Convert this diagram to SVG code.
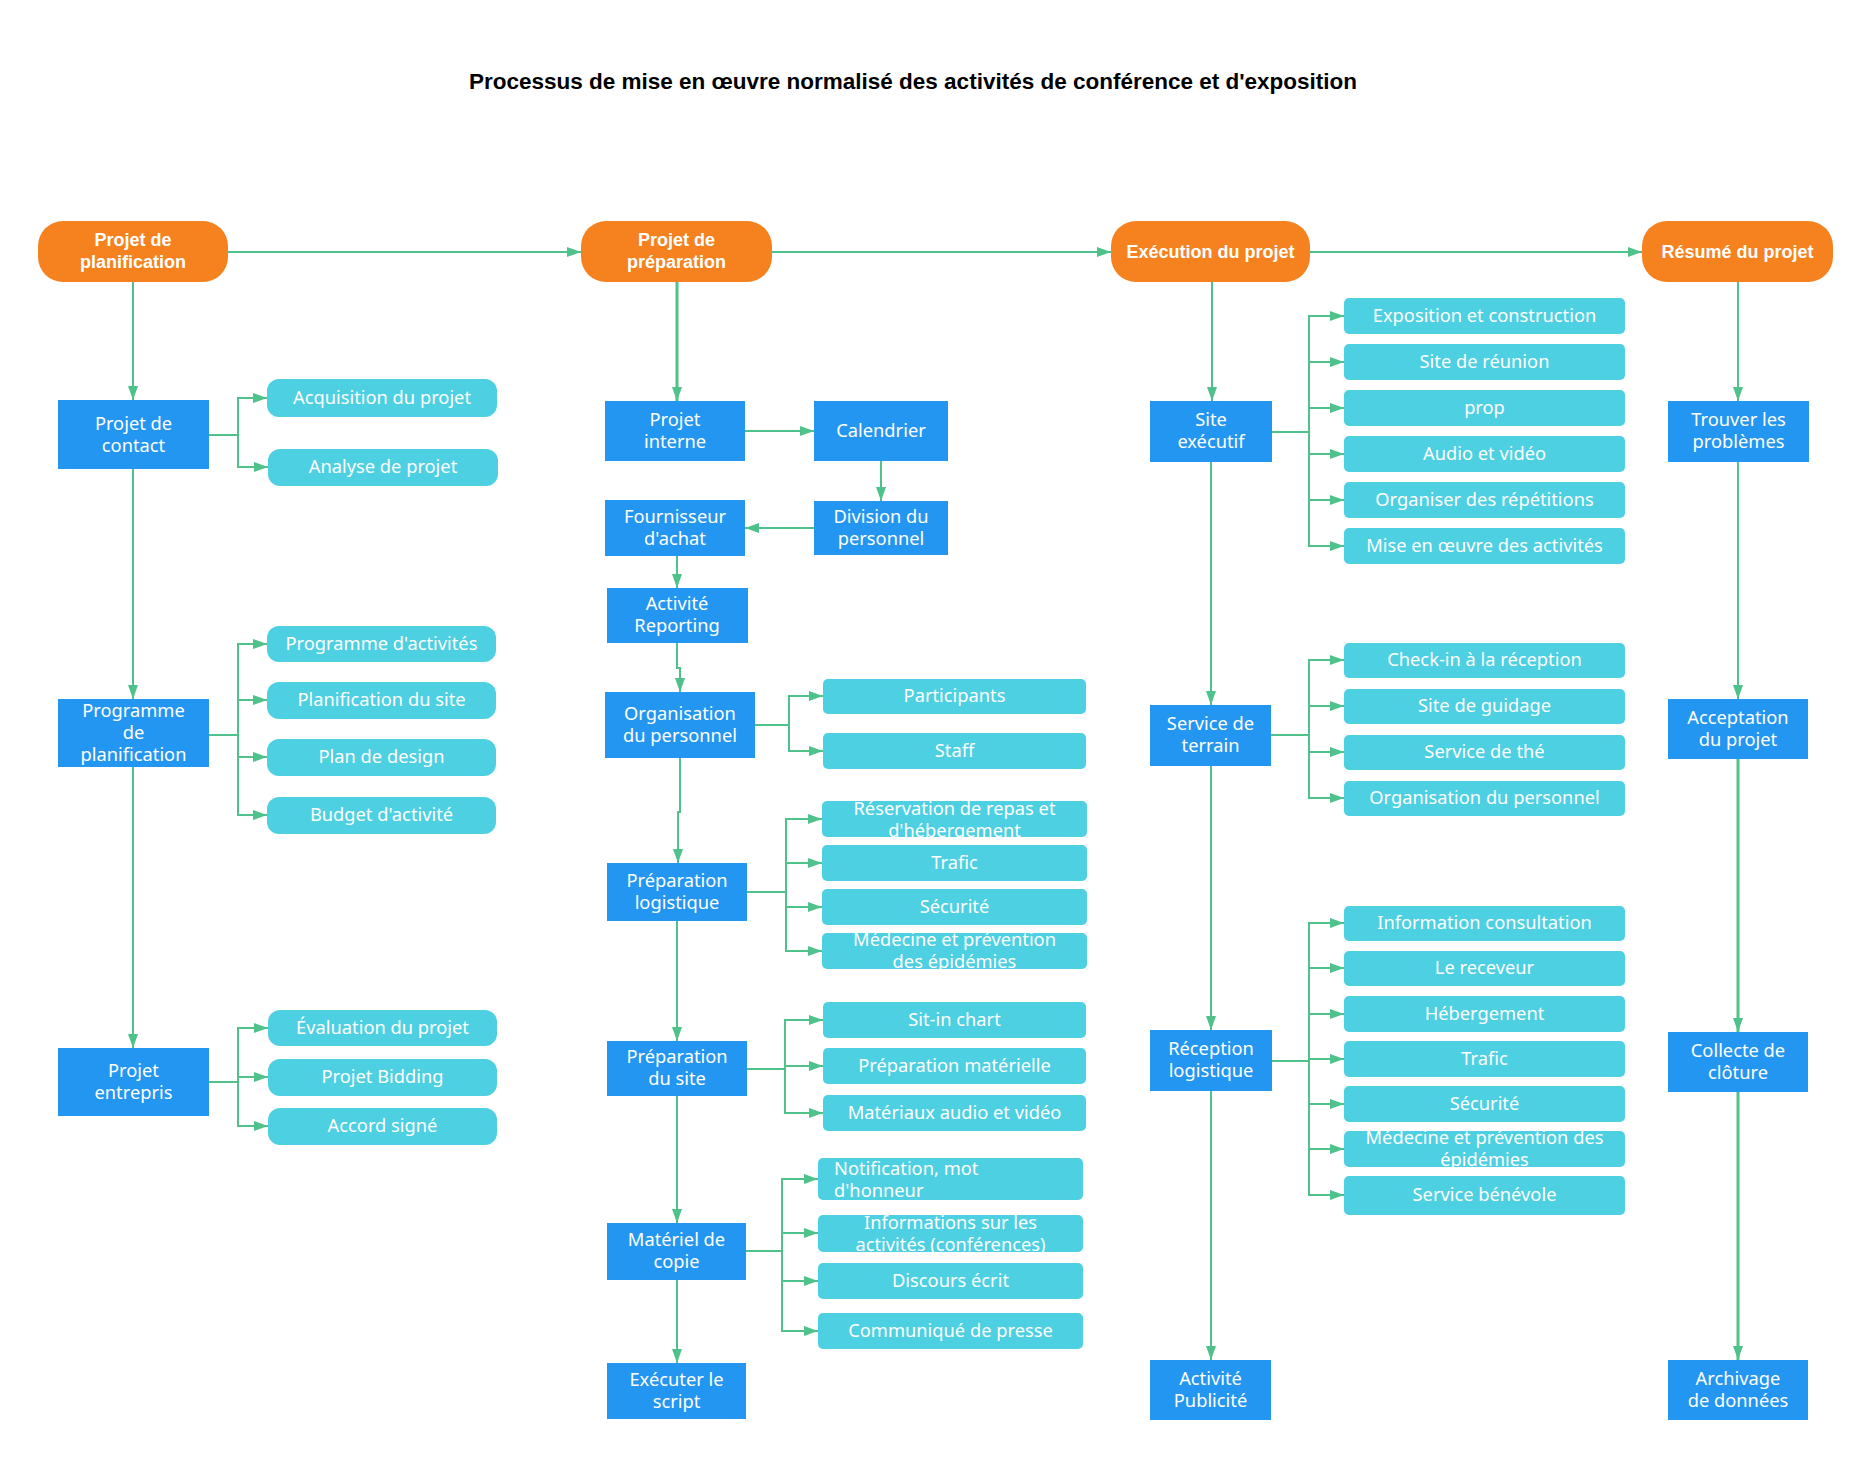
<svg xmlns="http://www.w3.org/2000/svg" width="1870" height="1459" viewBox="0 0 1870 1459">
<defs>
<marker id="arr" viewBox="0 0 14 10" refX="14" refY="5" markerWidth="14" markerHeight="10" markerUnits="userSpaceOnUse" orient="auto">
<path d="M0,0 L14,5 L0,10 Z" fill="#4ec28a"/>
</marker>
<style>
.hdr{fill:#f5821f}
.proc{fill:#2396f1}
.sub{fill:#4dd0e1}
.ht{font-family:"Liberation Sans",Arial,sans-serif;font-weight:bold;font-size:18px;fill:#fff;text-anchor:middle}
.pt{font-family:"Noto Sans","Open Sans",sans-serif;font-size:18.3px;fill:#fff;text-anchor:middle}
.st{font-family:"Noto Sans","Open Sans",sans-serif;font-size:18.3px;fill:#fff;text-anchor:middle}
.sl{font-family:"Noto Sans","Open Sans",sans-serif;font-size:18.3px;fill:#fff;text-anchor:start}
.title{font-family:"Liberation Sans",Arial,sans-serif;font-weight:bold;font-size:22.5px;fill:#000;text-anchor:middle}
.c{fill:none;stroke:#4ec28a;stroke-width:2;marker-end:url(#arr)}
.cn{fill:none;stroke:#4ec28a;stroke-width:2}
.ct{fill:none;stroke:#4ec28a;stroke-width:3;marker-end:url(#arr)}
</style>
</defs>
<rect width="1870" height="1459" fill="#fff"/>
<text class="title" x="913" y="89">Processus de mise en œuvre normalisé des activités de conférence et d'exposition</text>

<g id="connectors">
<path class="c" d="M228,252 H581"/>
<path class="c" d="M772,252 H1111"/>
<path class="c" d="M1310,252 H1642"/>
<path class="c" d="M133,282 V400"/>
<path class="cn" d="M209,435 H238"/>
<path class="c" d="M238,435 V398 H267"/>
<path class="c" d="M238,435 V467 H268"/>
<path class="c" d="M133,469 V699"/>
<path class="cn" d="M209,735 H238"/>
<path class="c" d="M238,735 V644 H267"/>
<path class="c" d="M238,735 V700 H267"/>
<path class="c" d="M238,735 V757 H267"/>
<path class="c" d="M238,735 V815 H267"/>
<path class="c" d="M133,767 V1048"/>
<path class="cn" d="M209,1082 H238"/>
<path class="c" d="M238,1082 V1028 H268"/>
<path class="c" d="M238,1082 V1077 H268"/>
<path class="c" d="M238,1082 V1126 H268"/>
<path class="ct" d="M677,282 V401"/>
<path class="c" d="M745,431 H814"/>
<path class="c" d="M881,461 V501"/>
<path class="c" d="M814,528 H745"/>
<path class="c" d="M677,556 V588"/>
<path class="c" d="M677,643 V668 H680 V692"/>
<path class="cn" d="M755,725 H789"/>
<path class="c" d="M789,725 V696 H823"/>
<path class="c" d="M789,725 V751 H823"/>
<path class="c" d="M680,758 V812 H678 V863"/>
<path class="cn" d="M747,892 H786"/>
<path class="c" d="M786,892 V819 H822"/>
<path class="c" d="M786,892 V863 H822"/>
<path class="c" d="M786,892 V907 H822"/>
<path class="c" d="M786,892 V951 H822"/>
<path class="c" d="M677,921 V1041"/>
<path class="cn" d="M747,1069 H785"/>
<path class="c" d="M785,1069 V1020 H823"/>
<path class="c" d="M785,1069 V1066 H823"/>
<path class="c" d="M785,1069 V1113 H823"/>
<path class="c" d="M677,1096 V1223"/>
<path class="cn" d="M746,1251 H782"/>
<path class="c" d="M782,1251 V1179 H818"/>
<path class="c" d="M782,1251 V1233 H818"/>
<path class="c" d="M782,1251 V1281 H818"/>
<path class="c" d="M782,1251 V1331 H818"/>
<path class="c" d="M677,1280 V1363"/>
<path class="c" d="M1212,282 V401"/>
<path class="cn" d="M1272,432 H1309"/>
<path class="c" d="M1309,432 V316 H1344"/>
<path class="c" d="M1309,432 V362 H1344"/>
<path class="c" d="M1309,432 V408 H1344"/>
<path class="c" d="M1309,432 V454 H1344"/>
<path class="c" d="M1309,432 V500 H1344"/>
<path class="c" d="M1309,432 V546 H1344"/>
<path class="c" d="M1211,462 V705"/>
<path class="cn" d="M1271,735 H1309"/>
<path class="c" d="M1309,735 V660 H1344"/>
<path class="c" d="M1309,735 V706 H1344"/>
<path class="c" d="M1309,735 V752 H1344"/>
<path class="c" d="M1309,735 V798 H1344"/>
<path class="c" d="M1211,766 V1030"/>
<path class="cn" d="M1272,1061 H1309"/>
<path class="c" d="M1309,1061 V923 H1344"/>
<path class="c" d="M1309,1061 V968 H1344"/>
<path class="c" d="M1309,1061 V1014 H1344"/>
<path class="c" d="M1309,1061 V1059 H1344"/>
<path class="c" d="M1309,1061 V1104 H1344"/>
<path class="c" d="M1309,1061 V1149 H1344"/>
<path class="c" d="M1309,1061 V1195 H1344"/>
<path class="c" d="M1211,1091 V1360"/>
<path class="c" d="M1738,282 V401"/>
<path class="c" d="M1738,462 V699"/>
<path class="ct" d="M1738,759 V1032"/>
<path class="ct" d="M1738,1092 V1360"/>
</g>

<g id="n-planif"><rect class="hdr" x="38" y="221" width="190" height="61" rx="25"/><text class="ht" x="133" y="246">Projet de<tspan x="133" dy="22">planification</tspan></text></g>
<g id="n-prep"><rect class="hdr" x="581" y="221" width="191" height="61" rx="25"/><text class="ht" x="676.5" y="246">Projet de<tspan x="676.5" dy="22">préparation</tspan></text></g>
<g id="n-exec"><rect class="hdr" x="1111" y="221" width="199" height="61" rx="25"/><text class="ht" x="1210.5" y="258">Exécution du projet</text></g>
<g id="n-resume"><rect class="hdr" x="1642" y="221" width="191" height="61" rx="25"/><text class="ht" x="1737.5" y="258">Résumé du projet</text></g>

<g id="n-contact"><rect class="proc" x="58" y="400" width="151" height="69"/><text class="pt" x="133.5" y="430">Projet de<tspan x="133.5" dy="22">contact</tspan></text></g>
<g id="n-programme"><rect class="proc" x="58" y="699" width="151" height="68"/><text class="pt" x="133.5" y="717">Programme<tspan x="133.5" dy="22">de</tspan><tspan x="133.5" dy="22">planification</tspan></text></g>
<g id="n-entrepris"><rect class="proc" x="58" y="1048" width="151" height="68"/><text class="pt" x="133.5" y="1077">Projet<tspan x="133.5" dy="22">entrepris</tspan></text></g>
<g id="n-interne"><rect class="proc" x="605" y="401" width="140" height="60"/><text class="pt" x="675" y="426">Projet<tspan x="675" dy="22">interne</tspan></text></g>
<g id="n-calendrier"><rect class="proc" x="814" y="401" width="134" height="60"/><text class="pt" x="881" y="437">Calendrier</text></g>
<g id="n-fournisseur"><rect class="proc" x="605" y="500" width="140" height="56"/><text class="pt" x="675" y="523">Fournisseur<tspan x="675" dy="22">d'achat</tspan></text></g>
<g id="n-division"><rect class="proc" x="814" y="501" width="134" height="54"/><text class="pt" x="881" y="523">Division du<tspan x="881" dy="22">personnel</tspan></text></g>
<g id="n-reporting"><rect class="proc" x="607" y="588" width="141" height="55"/><text class="pt" x="677" y="610">Activité<tspan x="677" dy="22">Reporting</tspan></text></g>
<g id="n-orgpers"><rect class="proc" x="605" y="692" width="150" height="66"/><text class="pt" x="680" y="720">Organisation<tspan x="680" dy="22">du personnel</tspan></text></g>
<g id="n-preplog"><rect class="proc" x="607" y="863" width="140" height="58"/><text class="pt" x="677" y="887">Préparation<tspan x="677" dy="22">logistique</tspan></text></g>
<g id="n-prepsite"><rect class="proc" x="607" y="1041" width="140" height="55"/><text class="pt" x="677" y="1063">Préparation<tspan x="677" dy="22">du site</tspan></text></g>
<g id="n-copie"><rect class="proc" x="607" y="1223" width="139" height="57"/><text class="pt" x="676.5" y="1246">Matériel de<tspan x="676.5" dy="22">copie</tspan></text></g>
<g id="n-script"><rect class="proc" x="607" y="1363" width="139" height="56"/><text class="pt" x="676.5" y="1386">Exécuter le<tspan x="676.5" dy="22">script</tspan></text></g>
<g id="n-siteexec"><rect class="proc" x="1150" y="401" width="122" height="61"/><text class="pt" x="1211" y="426">Site<tspan x="1211" dy="22">exécutif</tspan></text></g>
<g id="n-terrain"><rect class="proc" x="1150" y="705" width="121" height="61"/><text class="pt" x="1210.5" y="730">Service de<tspan x="1210.5" dy="22">terrain</tspan></text></g>
<g id="n-reclog"><rect class="proc" x="1150" y="1030" width="122" height="61"/><text class="pt" x="1211" y="1055">Réception<tspan x="1211" dy="22">logistique</tspan></text></g>
<g id="n-pub"><rect class="proc" x="1150" y="1360" width="121" height="60"/><text class="pt" x="1210.5" y="1385">Activité<tspan x="1210.5" dy="22">Publicité</tspan></text></g>
<g id="n-trouver"><rect class="proc" x="1668" y="401" width="141" height="61"/><text class="pt" x="1738.5" y="426">Trouver les<tspan x="1738.5" dy="22">problèmes</tspan></text></g>
<g id="n-accept"><rect class="proc" x="1668" y="699" width="140" height="60"/><text class="pt" x="1738" y="724">Acceptation<tspan x="1738" dy="22">du projet</tspan></text></g>
<g id="n-collecte"><rect class="proc" x="1668" y="1032" width="140" height="60"/><text class="pt" x="1738" y="1057">Collecte de<tspan x="1738" dy="22">clôture</tspan></text></g>
<g id="n-archivage"><rect class="proc" x="1668" y="1360" width="140" height="60"/><text class="pt" x="1738" y="1385">Archivage<tspan x="1738" dy="22">de données</tspan></text></g>

<g id="s-acq"><rect class="sub" x="267" y="379" width="230" height="38" rx="12"/><text class="st" x="382" y="404">Acquisition du projet</text></g>
<g id="s-analyse"><rect class="sub" x="268" y="449" width="230" height="37" rx="12"/><text class="st" x="383" y="473">Analyse de projet</text></g>
<g id="s-progact"><rect class="sub" x="267" y="626" width="229" height="36" rx="12"/><text class="st" x="381.5" y="650">Programme d'activités</text></g>
<g id="s-plansite"><rect class="sub" x="267" y="682" width="229" height="37" rx="12"/><text class="st" x="381.5" y="706">Planification du site</text></g>
<g id="s-design"><rect class="sub" x="267" y="739" width="229" height="37" rx="12"/><text class="st" x="381.5" y="763">Plan de design</text></g>
<g id="s-budget"><rect class="sub" x="267" y="797" width="229" height="37" rx="12"/><text class="st" x="381.5" y="821">Budget d'activité</text></g>
<g id="s-eval"><rect class="sub" x="268" y="1010" width="229" height="36" rx="12"/><text class="st" x="382.5" y="1034">Évaluation du projet</text></g>
<g id="s-bidding"><rect class="sub" x="268" y="1059" width="229" height="37" rx="12"/><text class="st" x="382.5" y="1083">Projet Bidding</text></g>
<g id="s-accord"><rect class="sub" x="268" y="1108" width="229" height="37" rx="12"/><text class="st" x="382.5" y="1132">Accord signé</text></g>

<g id="s-participants"><rect class="sub" x="823" y="679" width="263" height="35" rx="5"/><text class="st" x="954.5" y="702">Participants</text></g>
<g id="s-staff"><rect class="sub" x="823" y="733" width="263" height="36" rx="5"/><text class="st" x="954.5" y="757">Staff</text></g>
<g id="s-repas"><rect class="sub" x="822" y="801" width="265" height="36" rx="5"/><text class="st" x="954.5" y="814.5">Réservation de repas et<tspan x="954.5" dy="22">d'hébergement</tspan></text></g>
<g id="s-trafic1"><rect class="sub" x="822" y="845" width="265" height="36" rx="5"/><text class="st" x="954.5" y="869">Trafic</text></g>
<g id="s-secu1"><rect class="sub" x="822" y="889" width="265" height="36" rx="5"/><text class="st" x="954.5" y="913">Sécurité</text></g>
<g id="s-med1"><rect class="sub" x="822" y="933" width="265" height="36" rx="5"/><text class="st" x="954.5" y="945.5">Médecine et prévention<tspan x="954.5" dy="22">des épidémies</tspan></text></g>
<g id="s-sitin"><rect class="sub" x="823" y="1002" width="263" height="36" rx="5"/><text class="st" x="954.5" y="1026">Sit-in chart</text></g>
<g id="s-prepmat"><rect class="sub" x="823" y="1048" width="263" height="36" rx="5"/><text class="st" x="954.5" y="1072">Préparation matérielle</text></g>
<g id="s-matav"><rect class="sub" x="823" y="1095" width="263" height="36" rx="5"/><text class="st" x="954.5" y="1119">Matériaux audio et vidéo</text></g>
<g id="s-notif"><rect class="sub" x="818" y="1158" width="265" height="42" rx="5"/><text class="sl" x="834" y="1175">Notification, mot<tspan x="834" dy="22">d'honneur</tspan></text></g>
<g id="s-infos"><rect class="sub" x="818" y="1215" width="265" height="37" rx="5"/><text class="st" x="950.5" y="1228.5">Informations sur les<tspan x="950.5" dy="22">activités (conférences)</tspan></text></g>
<g id="s-discours"><rect class="sub" x="818" y="1263" width="265" height="36" rx="5"/><text class="st" x="950.5" y="1287">Discours écrit</text></g>
<g id="s-presse"><rect class="sub" x="818" y="1313" width="265" height="36" rx="5"/><text class="st" x="950.5" y="1337">Communiqué de presse</text></g>

<g id="s-expo"><rect class="sub" x="1344" y="298" width="281" height="36" rx="5"/><text class="st" x="1484.5" y="322">Exposition et construction</text></g>
<g id="s-reunion"><rect class="sub" x="1344" y="344" width="281" height="36" rx="5"/><text class="st" x="1484.5" y="368">Site de réunion</text></g>
<g id="s-prop"><rect class="sub" x="1344" y="390" width="281" height="36" rx="5"/><text class="st" x="1484.5" y="414">prop</text></g>
<g id="s-audio"><rect class="sub" x="1344" y="436" width="281" height="36" rx="5"/><text class="st" x="1484.5" y="460">Audio et vidéo</text></g>
<g id="s-repet"><rect class="sub" x="1344" y="482" width="281" height="36" rx="5"/><text class="st" x="1484.5" y="506">Organiser des répétitions</text></g>
<g id="s-miseoeuvre"><rect class="sub" x="1344" y="528" width="281" height="36" rx="5"/><text class="st" x="1484.5" y="552">Mise en œuvre des activités</text></g>
<g id="s-checkin"><rect class="sub" x="1344" y="643" width="281" height="35" rx="5"/><text class="st" x="1484.5" y="666">Check-in à la réception</text></g>
<g id="s-guidage"><rect class="sub" x="1344" y="689" width="281" height="35" rx="5"/><text class="st" x="1484.5" y="712">Site de guidage</text></g>
<g id="s-the"><rect class="sub" x="1344" y="735" width="281" height="35" rx="5"/><text class="st" x="1484.5" y="758">Service de thé</text></g>
<g id="s-orgpers2"><rect class="sub" x="1344" y="781" width="281" height="35" rx="5"/><text class="st" x="1484.5" y="804">Organisation du personnel</text></g>
<g id="s-info"><rect class="sub" x="1344" y="906" width="281" height="35" rx="5"/><text class="st" x="1484.5" y="929">Information consultation</text></g>
<g id="s-receveur"><rect class="sub" x="1344" y="951" width="281" height="35" rx="5"/><text class="st" x="1484.5" y="974">Le receveur</text></g>
<g id="s-heberg"><rect class="sub" x="1344" y="996" width="281" height="36" rx="5"/><text class="st" x="1484.5" y="1020">Hébergement</text></g>
<g id="s-trafic2"><rect class="sub" x="1344" y="1041" width="281" height="36" rx="5"/><text class="st" x="1484.5" y="1065">Trafic</text></g>
<g id="s-secu2"><rect class="sub" x="1344" y="1086" width="281" height="36" rx="5"/><text class="st" x="1484.5" y="1110">Sécurité</text></g>
<g id="s-med2"><rect class="sub" x="1344" y="1131" width="281" height="36" rx="5"/><text class="st" x="1484.5" y="1143.5">Médecine et prévention des<tspan x="1484.5" dy="22">épidémies</tspan></text></g>
<g id="s-benevole"><rect class="sub" x="1344" y="1176" width="281" height="39" rx="5"/><text class="st" x="1484.5" y="1201">Service bénévole</text></g>
</svg>
